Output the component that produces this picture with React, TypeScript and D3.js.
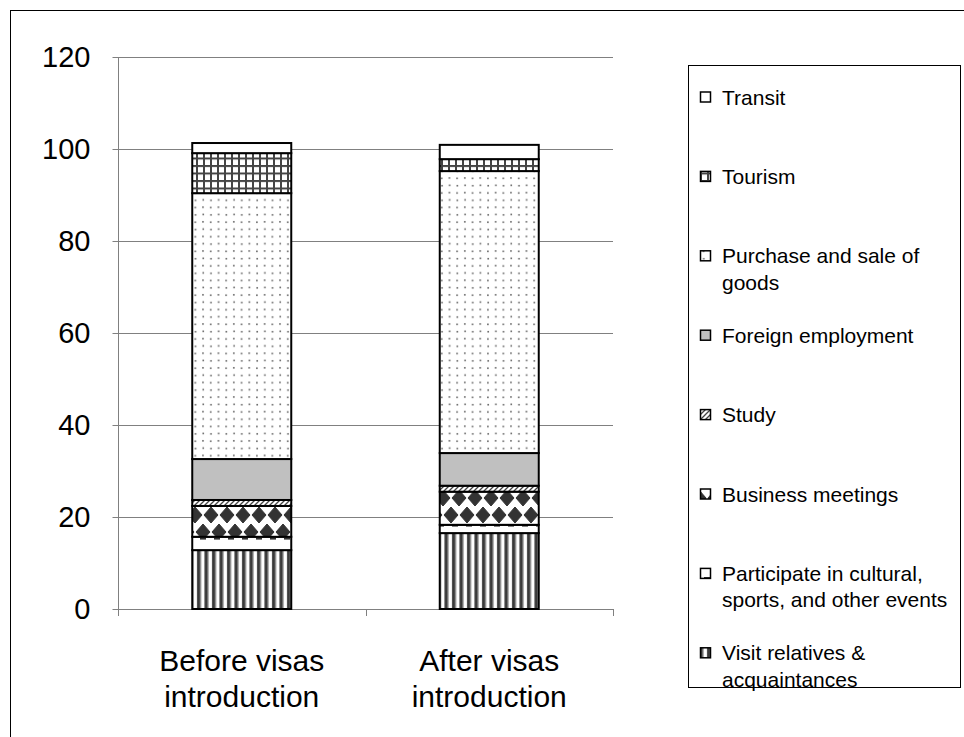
import { useEffect, useRef } from "react"
import * as d3 from "d3"

const categories = ["Before visas introduction", "After visas introduction"]
const categoryLines = [
  ["Before visas", "introduction"],
  ["After visas", "introduction"],
]

const seriesKeys = ["visit", "participate", "business", "study", "foreign", "purchase", "tourism", "transit"]
const seriesLabels = [
  ["Visit relatives &", "acquaintances"],
  ["Participate in cultural,", "sports, and other events"],
  ["Business meetings"],
  ["Study"],
  ["Foreign employment"],
  ["Purchase and sale of", "goods"],
  ["Tourism"],
  ["Transit"],
]

const visit = [12.8, 16.5]
const participate = [2.9, 1.8]
const business = [6.7, 7.2]
const study = [1.3, 1.3]
const foreign = [8.9, 7.1]
const purchase = [57.8, 61.3]
const tourism = [8.7, 2.6]
const transit = [2.2, 3.1]

const yTicks = [0, 20, 40, 60, 80, 100, 120]

const W = 964
const H = 737

export default function App() {
  const svgRef = useRef<SVGSVGElement>(null)

  useEffect(() => {
    if (!svgRef.current) return
    const svg = d3.select(svgRef.current)
    svg.selectAll("*").remove()

    const font = "'Liberation Sans', Arial, sans-serif"

    // patterns
    const defs = svg.append("defs")
    const pat = (id: string, w: number, h: number) =>
      defs
        .append("pattern")
        .attr("id", id)
        .attr("patternUnits", "userSpaceOnUse")
        .attr("width", w)
        .attr("height", h)

    // vertical stripes
    const pVisit = pat("p-visit", 7.5, 8)
    pVisit.append("rect").attr("width", 7.5).attr("height", 8).attr("fill", "#fff")
    pVisit.append("rect").attr("x", 2).attr("width", 3.4).attr("height", 8).attr("fill", "#3a3a3a")
    pVisit.append("rect").attr("x", 5.4).attr("width", 1).attr("height", 8).attr("fill", "#aaa")

    // dashes
    const pPart = pat("p-participate", 14, 13)
    pPart.append("rect").attr("width", 14).attr("height", 13).attr("fill", "#fff")
    pPart.append("rect").attr("x", 4).attr("y", 5).attr("width", 6).attr("height", 1.6).attr("fill", "#333")

    // staggered diamonds
    const pBus = pat("p-business", 16, 34).attr("patternTransform", "translate(3,5)")
    pBus.append("rect").attr("width", 16).attr("height", 34).attr("fill", "#fff")
    const dia = (cx: number, cy: number) => `M${cx},${cy - 8} L${cx + 7},${cy} L${cx},${cy + 8} L${cx - 7},${cy} Z`
    pBus
      .append("path")
      .attr("d", [dia(0, 0), dia(16, 0), dia(0, 34), dia(16, 34), dia(8, 17)].join(" "))
      .attr("fill", "#333")
      .attr("stroke", "#333")
      .attr("stroke-width", 1)
      .attr("stroke-linejoin", "round")

    // diagonal hatch
    const pStudy = pat("p-study", 5, 5)
    pStudy.append("rect").attr("width", 5).attr("height", 5).attr("fill", "#fff")
    pStudy.append("path").attr("d", "M-1,1 L1,-1 M0,5 L5,0 M4,6 L6,4").attr("stroke", "#444").attr("stroke-width", 1.3)

    // sparse dots
    const pPur = pat("p-purchase", 15.4, 14.6)
    pPur.append("rect").attr("width", 15.4).attr("height", 14.6).attr("fill", "#fff")
    pPur.append("rect").attr("x", 2).attr("y", 2).attr("width", 1.6).attr("height", 1.6).attr("fill", "#666")
    pPur.append("rect").attr("x", 9.7).attr("y", 2.4).attr("width", 1.6).attr("height", 1.6).attr("fill", "#666")
    pPur.append("rect").attr("x", 2.3).attr("y", 9.3).attr("width", 1.6).attr("height", 1.6).attr("fill", "#666")
    pPur.append("rect").attr("x", 10).attr("y", 9.7).attr("width", 1.6).attr("height", 1.6).attr("fill", "#666")

    // crosshatch grid
    const pTour = pat("p-tourism", 7, 7.5)
    pTour.append("rect").attr("width", 7).attr("height", 7.5).attr("fill", "#fff")
    pTour.append("rect").attr("x", 0).attr("width", 2).attr("height", 7.5).attr("fill", "#444")
    pTour.append("rect").attr("y", 0).attr("width", 7).attr("height", 2).attr("fill", "#444")

    const fills: Record<string, string> = {
      visit: "url(#p-visit)",
      participate: "url(#p-participate)",
      business: "url(#p-business)",
      study: "url(#p-study)",
      foreign: "#c0c0c0",
      purchase: "url(#p-purchase)",
      tourism: "url(#p-tourism)",
      transit: "#fff",
    }

    svg.append("rect").attr("width", W).attr("height", H).attr("fill", "#fff")

    // outer chart border
    svg
      .append("rect")
      .attr("x", 10.5)
      .attr("y", 10.5)
      .attr("width", W + 20)
      .attr("height", H + 20)
      .attr("fill", "none")
      .attr("stroke", "#000")
      .attr("stroke-width", 1)

    const plot = { left: 118, right: 613, top: 57, bottom: 609 }

    const x = d3.scaleBand<string>().domain(categories).range([plot.left, plot.right])
    const y = d3.scaleLinear().domain([0, 120]).range([plot.bottom, plot.top])

    // gridlines
    svg
      .append("g")
      .selectAll("line")
      .data(yTicks.filter((t) => t > 0))
      .enter()
      .append("line")
      .attr("x1", plot.left)
      .attr("x2", plot.right)
      .attr("y1", (d) => Math.round(y(d)) + 0.5)
      .attr("y2", (d) => Math.round(y(d)) + 0.5)
      .attr("stroke", "#808080")
      .attr("stroke-width", 1)

    // y axis
    const yAxis = svg.append("g").attr("transform", `translate(${plot.left + 0.5},0)`)
    yAxis
      .append("line")
      .attr("y1", plot.top)
      .attr("y2", plot.bottom)
      .attr("stroke", "#808080")
    yAxis
      .selectAll("line.tick")
      .data(yTicks)
      .enter()
      .append("line")
      .attr("class", "tick")
      .attr("x1", -6)
      .attr("x2", 0)
      .attr("y1", (d) => Math.round(y(d)) + 0.5)
      .attr("y2", (d) => Math.round(y(d)) + 0.5)
      .attr("stroke", "#808080")
    yAxis
      .selectAll("text")
      .data(yTicks)
      .enter()
      .append("text")
      .attr("x", -28)
      .attr("y", (d) => y(d))
      .attr("dy", "0.36em")
      .attr("text-anchor", "end")
      .attr("font-family", font)
      .attr("font-size", 29)
      .attr("fill", "#000")
      .text((d) => d)

    // x axis
    const xAxis = svg.append("g")
    xAxis
      .append("line")
      .attr("x1", plot.left)
      .attr("x2", plot.right)
      .attr("y1", plot.bottom + 0.5)
      .attr("y2", plot.bottom + 0.5)
      .attr("stroke", "#808080")
    const boundaries = [plot.left, ...categories.map((c) => (x(c) as number) + x.bandwidth())]
    xAxis
      .selectAll("line.tick")
      .data(boundaries)
      .enter()
      .append("line")
      .attr("class", "tick")
      .attr("x1", (d) => Math.round(d) + 0.5)
      .attr("x2", (d) => Math.round(d) + 0.5)
      .attr("y1", plot.bottom)
      .attr("y2", plot.bottom + 7)
      .attr("stroke", "#808080")
    categories.forEach((c, i) => {
      const cx = (x(c) as number) + x.bandwidth() / 2
      const t = xAxis
        .append("text")
        .attr("text-anchor", "middle")
        .attr("font-family", font)
        .attr("font-size", 30)
        .attr("fill", "#000")
      categoryLines[i].forEach((line, j) => {
        t.append("tspan")
          .attr("x", cx)
          .attr("y", 671 + j * 36)
          .text(line)
      })
    })

    // stacked bars
    const table = categories.map((c, i) => ({
      category: c,
      visit: visit[i],
      participate: participate[i],
      business: business[i],
      study: study[i],
      foreign: foreign[i],
      purchase: purchase[i],
      tourism: tourism[i],
      transit: transit[i],
    }))
    const stacked = d3.stack<any>().keys(seriesKeys)(table)
    const barW = x.bandwidth() * 0.4

    const bars = svg.append("g")
    stacked.forEach((layer) => {
      bars
        .append("g")
        .selectAll("rect")
        .data(layer)
        .enter()
        .append("rect")
        .attr("x", (d: any) => (x(d.data.category) as number) + (x.bandwidth() - barW) / 2)
        .attr("y", (d) => y(d[1]))
        .attr("width", barW)
        .attr("height", (d) => y(d[0]) - y(d[1]))
        .attr("fill", fills[layer.key])
        .attr("stroke", "#000")
        .attr("stroke-width", 2)
    })

    // legend
    const legend = svg.append("g")
    legend
      .append("rect")
      .attr("x", 688.5)
      .attr("y", 65.5)
      .attr("width", 272)
      .attr("height", 622)
      .attr("fill", "none")
      .attr("stroke", "#000")
      .attr("stroke-width", 1)

    const legendOrder = d3.range(seriesKeys.length).reverse()
    legendOrder.forEach((k, i) => {
      const cy = 97 + i * 79.4
      const g = legend.append("g")
      g.append("rect")
        .attr("x", 700.5)
        .attr("y", cy - 5)
        .attr("width", 10)
        .attr("height", 10)
        .attr("fill", fills[seriesKeys[k]])
        .attr("stroke", "#000")
        .attr("stroke-width", 1.5)
      const t = g
        .append("text")
        .attr("font-family", font)
        .attr("font-size", 21)
        .attr("fill", "#000")
      seriesLabels[k].forEach((line, j) => {
        t.append("tspan")
          .attr("x", 722)
          .attr("y", cy + 7.5 + j * 26.5)
          .text(line)
      })
    })
  }, [])

  return (
    <div style={{ position: "absolute", left: 0, top: 0 }}>
      <svg ref={svgRef} width={W} height={H} style={{ display: "block" }} />
    </div>
  )
}
